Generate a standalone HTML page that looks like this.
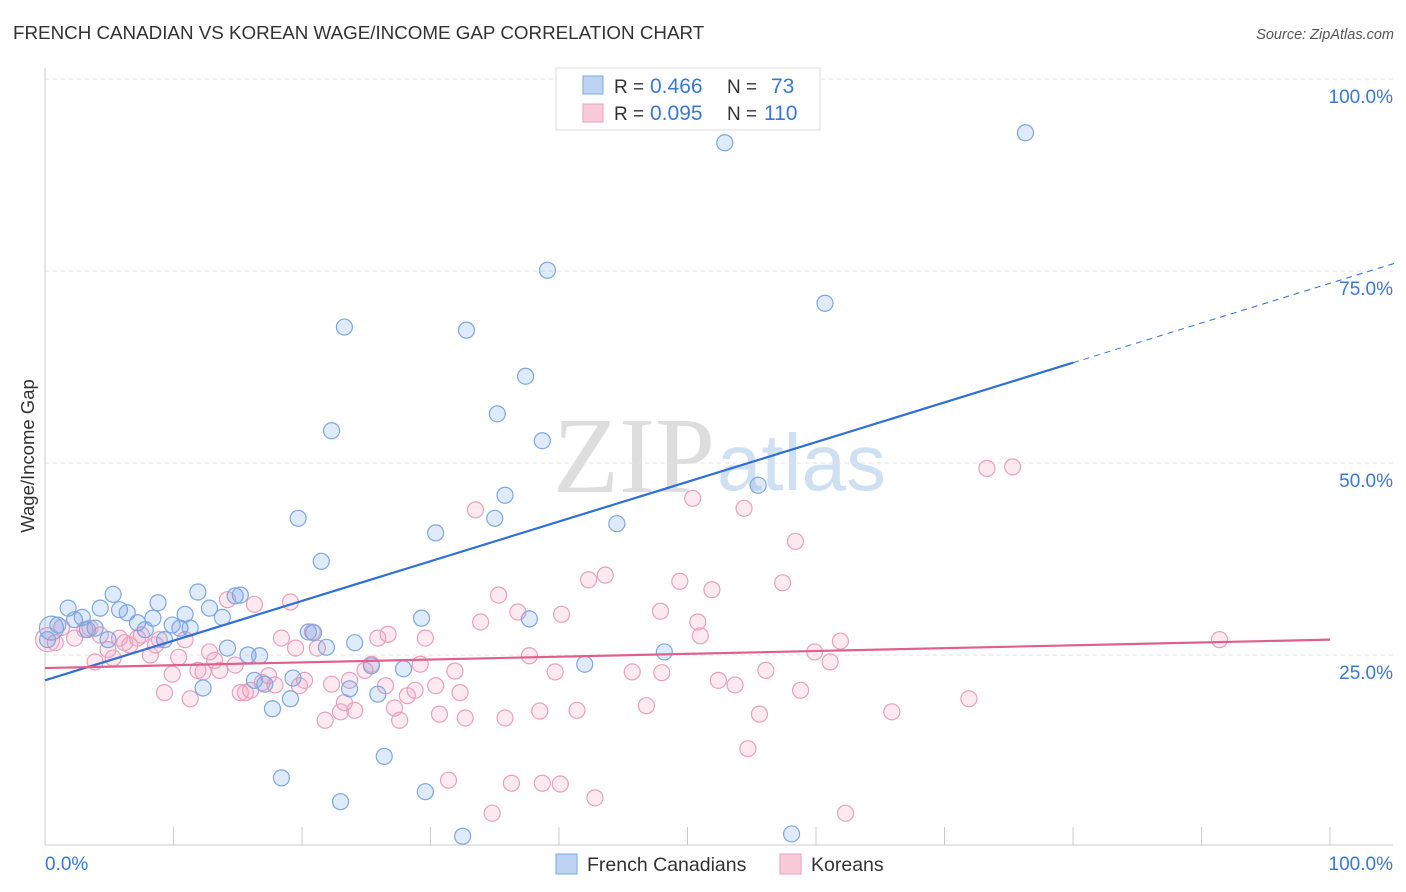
<!DOCTYPE html>
<html><head><meta charset="utf-8"><style>
body{margin:0;background:#fff;font-family:"Liberation Sans",sans-serif;}
#wrap{position:relative;width:1406px;height:892px;overflow:hidden;}
</style></head><body>
<div id="wrap">
<svg id="svg" width="1406" height="892">
<text x="13" y="39" font-size="18.8" fill="#333">FRENCH CANADIAN VS KOREAN WAGE/INCOME GAP CORRELATION CHART</text>
<text x="1394" y="39" font-size="14.5" fill="#555" font-style="italic" text-anchor="end">Source: ZipAtlas.com</text>
<text x="34" y="456" font-size="18.5" fill="#333" text-anchor="middle" transform="rotate(-90 34 456)">Wage/Income Gap</text>
<g>
<text x="553" y="492" font-size="108" fill="#ddd" font-family="Liberation Serif,serif">ZIP</text>
<text x="717" y="490" font-size="80" fill="#cfe0f3">atlas</text>
</g>
<g id="grid"></g>
<g id="marks"></g>
<g>
<rect x="556" y="68" width="264" height="62" fill="#fff" stroke="#ddd"/>
<rect x="583" y="76" width="20" height="18" fill="#bcd3f3" stroke="#7ea8e0"/>
<rect x="583" y="104" width="20" height="18" fill="#f9cbd9" stroke="#eaa0bb"/>
<text x="614" y="93" font-size="19" fill="#333">R = <tspan x="650" fill="#3a78d4" font-size="21">0.466</tspan><tspan x="727">N = </tspan><tspan x="771" fill="#3a78d4" font-size="21">73</tspan></text>
<text x="614" y="120" font-size="19" fill="#333">R = <tspan x="650" fill="#3a78d4" font-size="21">0.095</tspan><tspan x="727">N = </tspan><tspan x="764" fill="#3a78d4" font-size="21">110</tspan></text>
</g>
<g>
<rect x="556" y="854" width="21" height="20" fill="#bcd3f3" stroke="#7ea8e0"/>
<text x="587" y="871" font-size="19.5" fill="#333">French Canadians</text>
<rect x="780" y="854" width="21" height="20" fill="#f9cbd9" stroke="#eaa0bb"/>
<text x="811" y="871" font-size="19.5" fill="#333">Koreans</text>
</g>
</svg>
</div>
<script>
const yTicks=[25,50,75,100];
const yTickLabels=["25.0%","50.0%","75.0%","100.0%"];
const xTickLabels=["0.0%","100.0%"];
const blueTrend=[21.7,73.4];
const pinkTrend=[23.3,27.0];
const bluePx=[[52,628],[68,608],[75,620],[82,617],[95,628],[100,608],[113,594],[120,610],[127,613],[138,623],[145,630],[153,618],[158,603],[165,640],[172,625],[180,628],[185,614],[190,628],[198,592],[203,688],[210,608],[222,617],[228,648],[235,596],[240,595],[248,655],[255,680],[260,656],[265,684],[273,709],[281,778],[290,699],[293,678],[298,518],[308,632],[313,633],[321,561],[327,647],[331,431],[341,802],[345,327],[350,689],[355,643],[371,666],[378,694],[384,756],[403,669],[422,618],[425,792],[436,533],[462,836],[467,330],[495,518],[497,414],[505,495],[526,376],[530,619],[542,441],[547,270],[585,664],[617,524],[665,652],[725,143],[758,485],[792,834],[825,303],[1026,133],[48,640],[58,625],[88,630],[108,640]];
const pinkPx=[[48,640],[55,643],[62,627],[75,638],[85,630],[90,628],[95,662],[100,635],[108,650],[113,658],[120,638],[125,643],[130,645],[137,638],[142,635],[150,655],[155,645],[160,640],[165,693],[172,674],[178,657],[185,640],[190,699],[198,670],[203,672],[210,652],[215,660],[220,670],[228,600],[235,665],[240,693],[245,693],[250,690],[255,604],[262,683],[268,676],[275,685],[282,638],[290,602],[295,648],[300,686],[305,680],[312,632],[318,648],[325,720],[332,684],[340,712],[345,703],[350,680],[355,710],[365,670],[372,664],[378,638],[385,686],[388,634],[395,708],[400,720],[408,696],[415,690],[420,664],[425,638],[435,686],[440,714],[448,780],[455,671],[460,693],[465,718],[475,510],[480,622],[492,813],[498,595],[505,718],[512,783],[518,612],[530,656],[540,711],[542,783],[555,672],[560,784],[562,614],[577,710],[588,580],[595,798],[605,575],[632,672],[646,706],[660,611],[662,673],[680,581],[692,498],[698,622],[700,636],[712,590],[718,680],[735,685],[744,508],[748,749],[760,714],[766,670],[783,583],[795,541],[801,690],[815,652],[830,662],[841,641],[846,813],[892,712],[969,699],[987,468],[1013,467],[1219,640]];
const blueData=bluePx.map(p=>[+((p[0]-45)/12.85).toFixed(1),+((847-p[1])/7.68).toFixed(1)]);
const pinkData=pinkPx.map(p=>[+((p[0]-45)/12.85).toFixed(1),+((847-p[1])/7.68).toFixed(1)]);

const X=v=>45+v*12.85, Y=v=>847-v*7.68;
const NS="http://www.w3.org/2000/svg";
function mk(tag,attrs,parent){const e=document.createElementNS(NS,tag);for(const k in attrs)e.setAttribute(k,attrs[k]);parent.appendChild(e);return e;}
const grid=document.getElementById('grid'), marks=document.getElementById('marks');
yTicks.forEach((t,i)=>{
  const l=mk('line',{x1:45,x2:1393,y1:Y(t),y2:Y(t),stroke:'#e2e2e2','stroke-dasharray':'4,4'},grid);
  
  
  const tx=mk('text',{x:1393,y:Y(t)+24,'font-size':19,fill:'#3a78d4','text-anchor':'end'},grid);
  tx.textContent=yTickLabels[i];
  
  
});
const ax=mk('line',{x1:45,x2:45,y1:68,y2:845,stroke:'#ccc'},grid);


const bx=mk('line',{x1:45,x2:1393,y1:845,y2:845,stroke:'#ccc'},grid);


for(let i=0;i<=10;i++){
  const t=mk('line',{x1:X(i*10),x2:X(i*10),y1:827,y2:845,stroke:'#ccc'},grid);
  
  
}
[[0,'start',45],[100,'end',1393]].forEach((d,i)=>{
  const t=mk('text',{x:d[2],y:870,'font-size':19,fill:'#3a78d4','text-anchor':d[1]},grid);
  t.textContent=xTickLabels[i];
  
  
});
function dots(data,fill,stroke,name){
  data.forEach((d,i)=>{
    const c=mk('circle',{cx:X(d[0]),cy:Y(d[1]),r:(i===0?12:8),fill:fill,stroke:stroke,'stroke-width':1.2},marks);
    
    
  });
}
dots(pinkData,'rgba(244,160,190,0.22)','#eaa0bb','korean-point');
dots(blueData,'rgba(110,160,230,0.22)','#7ea8e0','french-canadian-point');
const bx2=80;
const by2=blueTrend[0]+(blueTrend[1]-blueTrend[0])*bx2/100;
let l=mk('line',{x1:X(0),y1:Y(blueTrend[0]),x2:X(bx2),y2:Y(by2),stroke:'#2f6fd6','stroke-width':2.2},marks);


const bEnd=blueTrend[0]+(blueTrend[1]-blueTrend[0])*105/100;
l=mk('line',{x1:X(bx2),y1:Y(by2),x2:X(105),y2:Y(bEnd),stroke:'#2f6fd6','stroke-width':1,'stroke-dasharray':'6,5'},marks);


l=mk('line',{x1:X(0),y1:Y(pinkTrend[0]),x2:X(100),y2:Y(pinkTrend[1]),stroke:'#e0608c','stroke-width':2.2},marks);


</script>
</body></html>
